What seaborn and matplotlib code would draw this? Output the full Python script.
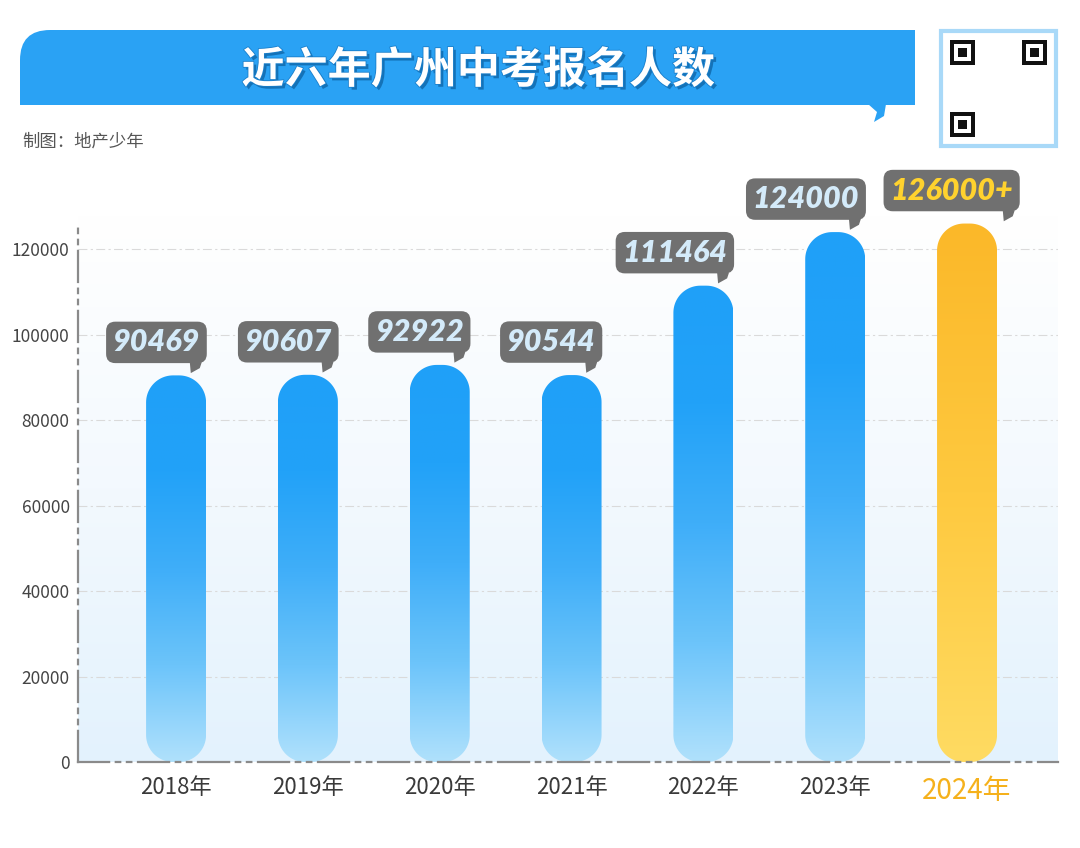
import numpy as np
import pandas as pd
import seaborn as sns
import matplotlib.pyplot as plt
from matplotlib.patches import FancyBboxPatch, Polygon, Rectangle
from matplotlib.colors import LinearSegmentedColormap
from matplotlib.transforms import IdentityTransform
import matplotlib.patheffects as pe

years = ['2018年', '2019年', '2020年', '2021年', '2022年', '2023年', '2024年']
counts = [90469, 90607, 92922, 90544, 111464, 124000, 126000]
labels = ['90469', '90607', '92922', '90544', '111464', '124000', '126000+']
yticks = [0, 20000, 40000, 60000, 80000, 100000, 120000]

title = '近六年广州中考报名人数'
subtitle = '制图：地产少年'

sns.set_style('white')
plt.rcParams['font.family'] = ['Noto Sans CJK SC', 'DejaVu Sans']

W, H = 1080, 848
fig = plt.figure(figsize=(W / 100, H / 100), dpi=100)
ax_l, ax_r, ax_t, ax_b = 78, 1058, 215, 762
ax = fig.add_axes([ax_l / W, (H - ax_b) / H, (ax_r - ax_l) / W, (ax_b - ax_t) / H])

df = pd.DataFrame({'year': years, 'count': counts})
sns.barplot(data=df, x='year', y='count', ax=ax, width=0.455, color='#2AA3F5')
bars = list(ax.patches)

xlim = (-0.744, 6.69)
ylim = (0, 128000)

blue_cmap = LinearSegmentedColormap.from_list('b', ['#B0E1FC', '#6CC4FA', '#3FAEF9', '#22A2F8', '#1FA0F8'])
gold_cmap = LinearSegmentedColormap.from_list('g', ['#FFDB62', '#FEC93F', '#FBB829'])
bg_cmap = LinearSegmentedColormap.from_list('bg', ['#E3F2FD', '#F3F9FE', '#FFFFFF'])
grad = np.linspace(0, 1, 256).reshape(-1, 1)

# background gradient inside axes
ax.imshow(grad, extent=(0, 1, 0, 1), transform=ax.transAxes, origin='lower',
          cmap=bg_cmap, aspect='auto', zorder=0)

px_x = (ax_r - ax_l) / (xlim[1] - xlim[0])
px_y = (ax_b - ax_t) / (ylim[1] - ylim[0])


def rounded_bar(x0, w, h, r_px=27):
    rx, ry = r_px / px_x, r_px / px_y
    q = np.linspace(0, np.pi / 2, 24)
    pts = []
    for cx, cy, a0 in [(x0 + w - rx, h - ry, 0), (x0 + rx, h - ry, np.pi / 2),
                       (x0 + rx, ry, np.pi), (x0 + w - rx, ry, 1.5 * np.pi)]:
        a = a0 + q
        pts += list(zip(cx + rx * np.cos(a), cy + ry * np.sin(a)))
    return Polygon(pts, closed=True, facecolor='none', edgecolor='none')


for i, bar in enumerate(bars):
    x0, w, h = bar.get_x(), bar.get_width(), bar.get_height()
    bar.set_visible(False)
    shape = rounded_bar(x0, w, h)
    ax.add_patch(shape)
    cmap = gold_cmap if i == len(counts) - 1 else blue_cmap
    im = ax.imshow(grad, extent=(x0, x0 + w, 0, h), origin='lower', cmap=cmap,
                   aspect='auto', zorder=2)
    im.set_clip_path(shape)

ax.set_xlim(*xlim)
ax.set_ylim(*ylim)

# value callouts
texts = []
for i, bar in enumerate(bars):
    xr = bar.get_x() + bar.get_width()
    col = '#FFD22E' if i == len(counts) - 1 else '#D4EBFA'
    shift = 16 if i == len(counts) - 1 else -6
    t = ax.annotate(labels[i], xy=(xr, counts[i]), xytext=(shift, 19),
                    textcoords='offset pixels', ha='right', va='bottom',
                    fontsize=22, fontweight='heavy', fontstyle='italic',
                    family=['Lato', 'DejaVu Sans'], color=col, zorder=5,
                    bbox=dict(boxstyle='round,pad=0.22,rounding_size=0.3',
                              facecolor='#707070', edgecolor='none'))
    texts.append(t)

ax.set_yticks(yticks)
ax.set_yticklabels([str(v) for v in yticks])
ax.tick_params(axis='y', length=0, pad=6, labelsize=12.5, labelcolor='#444444')
ax.tick_params(axis='x', length=0, pad=10, labelsize=16, labelcolor='#3A3A3A')
ax.set_xlabel('')
ax.set_ylabel('')
xl = ax.get_xticklabels()
for lab in xl:
    lab.set_fontweight('medium')
xl[-1].set_color('#F5B11C')
xl[-1].set_fontsize(20)

ax.yaxis.grid(True, color='#DADADA', linestyle=(0, (8, 3, 2, 3)), linewidth=0.8)
ax.set_axisbelow(True)
for s in ['top', 'right']:
    ax.spines[s].set_visible(False)
for s in ['left', 'bottom']:
    ax.spines[s].set_color('#8A8A8A')
    ax.spines[s].set_linewidth(1.6)
    ax.spines[s].set_linestyle((0, (14, 3, 2, 3, 2, 3)))
ax.spines['left'].set_bounds(0, 126000)

# title banner (pixel coords from top)
def fy(y):
    return H - y

banner = FancyBboxPatch((20, fy(105)), 895, 75, boxstyle='round,pad=0,rounding_size=30',
                        facecolor='#2AA2F4', edgecolor='none', transform=IdentityTransform())
fig.add_artist(banner)
fig.add_artist(Rectangle((20, fy(105)), 60, 40, facecolor='#2AA2F4', edgecolor='none',
                         transform=IdentityTransform()))
fig.add_artist(Rectangle((860, fy(105)), 55, 75, facecolor='#2AA2F4', edgecolor='none',
                         transform=IdentityTransform()))
fig.add_artist(Polygon([(868, fy(104)), (886, fy(104)), (884, fy(116)), (874, fy(122)), (877, fy(112))],
                       closed=True, facecolor='#2AA2F4', edgecolor='none', transform=IdentityTransform()))
fig.text(478 / W, fy(70) / H, title, ha='center', va='center', color='white',
         fontsize=31, fontweight='bold',
         path_effects=[pe.withSimplePatchShadow(offset=(2, -2), shadow_rgbFace='#0B5E9E', alpha=0.7),
                       pe.Stroke(linewidth=1.2, foreground='#1A7FCB'), pe.Normal()])

fig.text(22 / W, fy(142) / H, subtitle, ha='left', va='center', color='#555555', fontsize=12.5)

# QR code placeholder
fig.add_artist(Rectangle((941, fy(146)), 115, 115, facecolor='white', edgecolor='#A9D9F8',
                         linewidth=3, transform=IdentityTransform()))
for qx, qy in [(950, 40), (1022, 40), (950, 112)]:
    fig.add_artist(Rectangle((qx, fy(qy + 25)), 25, 25, facecolor='#111111', edgecolor='none',
                             transform=IdentityTransform()))
    fig.add_artist(Rectangle((qx + 4, fy(qy + 21)), 17, 17, facecolor='white', edgecolor='none',
                             transform=IdentityTransform()))
    fig.add_artist(Rectangle((qx + 8, fy(qy + 17)), 9, 9, facecolor='#111111', edgecolor='none',
                             transform=IdentityTransform()))

# callout tails
fig.canvas.draw()
for t in texts:
    bb = t.get_bbox_patch().get_window_extent()
    x1, y0 = bb.x1, bb.y0
    fig.add_artist(Polygon([(x1 - 17, y0 + 1), (x1 - 5, y0 + 1), (x1 - 7, y0 - 5), (x1 - 16, y0 - 10)],
                           closed=True, facecolor='#707070', edgecolor='none',
                           transform=IdentityTransform()))

fig.savefig('out.png', dpi=100)
